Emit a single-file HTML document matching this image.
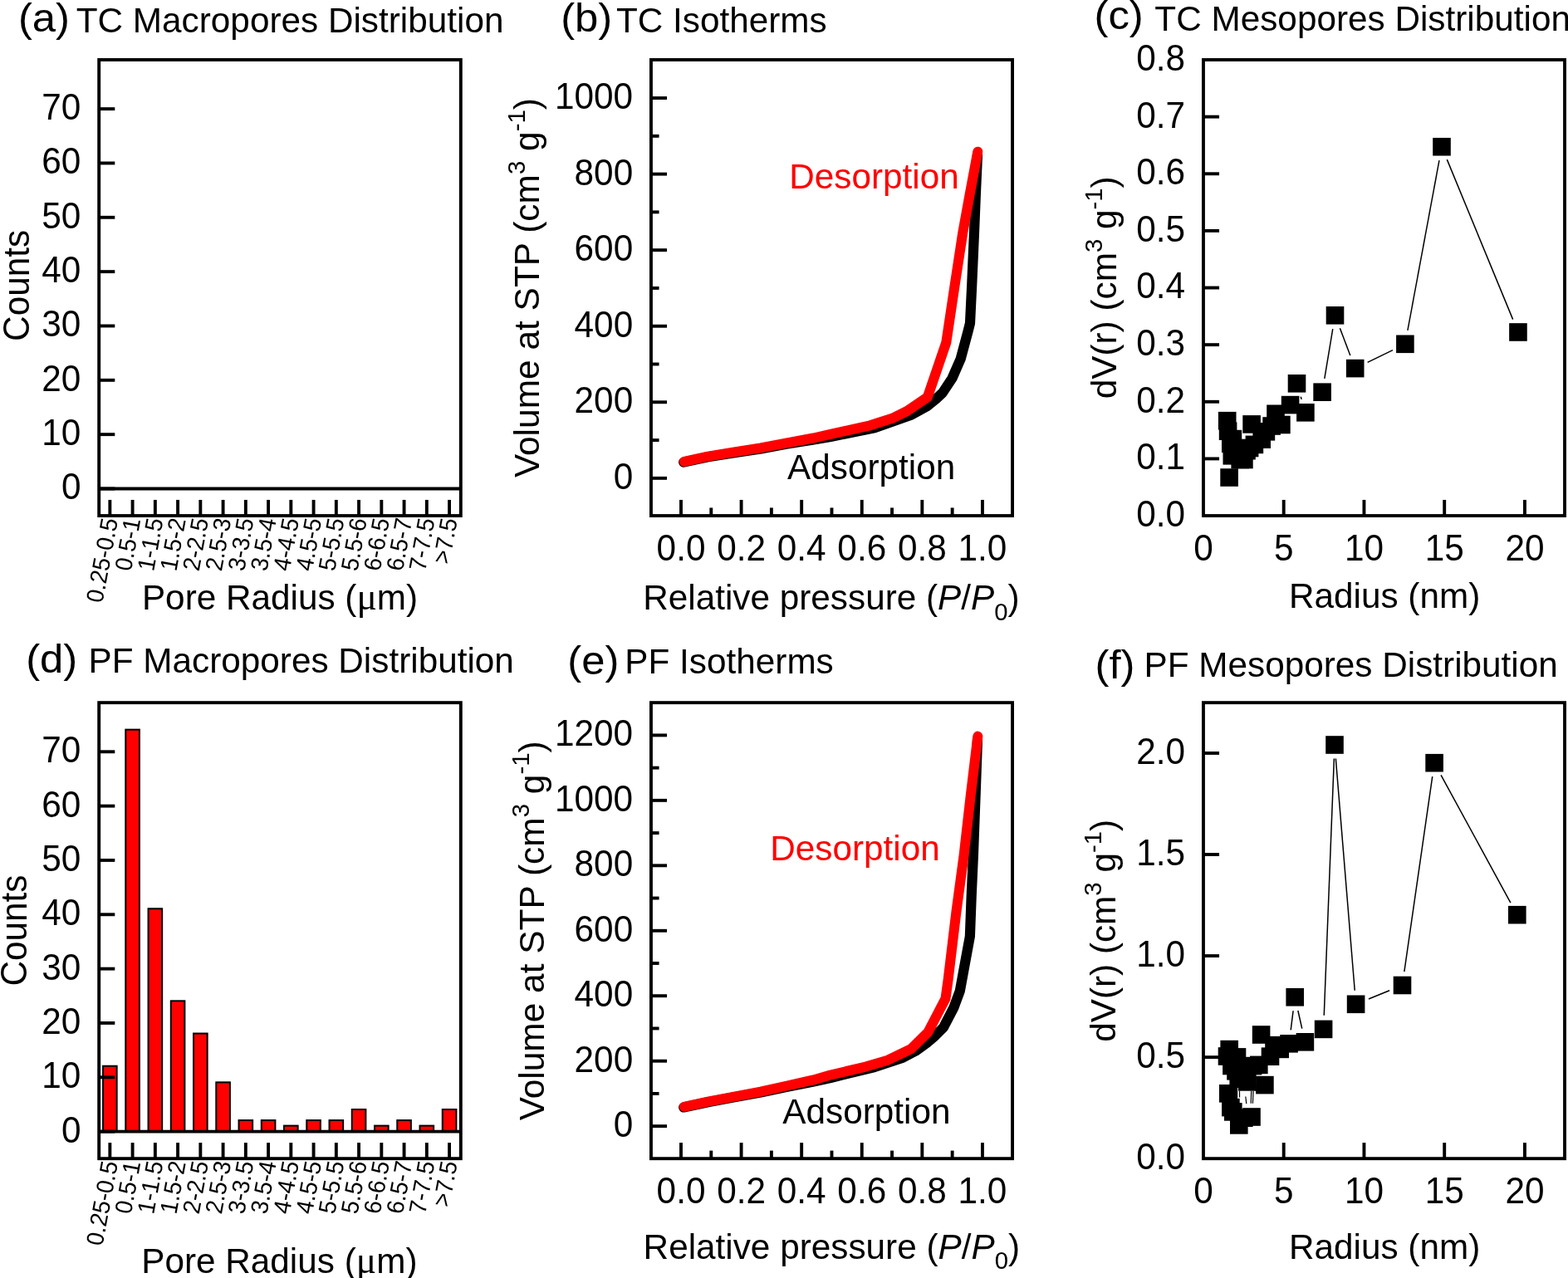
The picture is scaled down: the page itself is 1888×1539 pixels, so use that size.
<!DOCTYPE html>
<html lang="en">
<head>
<meta charset="utf-8">
<title>Macropore / mesopore distributions and isotherms of TC and PF</title>
<style>
html,body{margin:0;padding:0;background:#fff}
svg{display:block;font-family:"Liberation Sans","Noto Sans CJK SC",sans-serif;font-size:42.3px;fill:#000}
</style>
</head>
<body>
<svg width="1888" height="1539" viewBox="0 0 1888 1539">
<rect width="1888" height="1539" fill="#fff"/>
<rect x="119.2" y="72" width="435.6" height="549.05" fill="none" stroke="#000" stroke-width="3.9"/>
<line x1="119.2" y1="588.5" x2="554.8" y2="588.5" stroke="#000" stroke-width="3.9"/>
<line x1="119.2" y1="588.5" x2="138.3" y2="588.5" stroke="#000" stroke-width="3.9"/>
<line x1="119.2" y1="523.16" x2="138.3" y2="523.16" stroke="#000" stroke-width="3.9"/>
<line x1="119.2" y1="457.82" x2="138.3" y2="457.82" stroke="#000" stroke-width="3.9"/>
<line x1="119.2" y1="392.48" x2="138.3" y2="392.48" stroke="#000" stroke-width="3.9"/>
<line x1="119.2" y1="327.14" x2="138.3" y2="327.14" stroke="#000" stroke-width="3.9"/>
<line x1="119.2" y1="261.8" x2="138.3" y2="261.8" stroke="#000" stroke-width="3.9"/>
<line x1="119.2" y1="196.46" x2="138.3" y2="196.46" stroke="#000" stroke-width="3.9"/>
<line x1="119.2" y1="131.12" x2="138.3" y2="131.12" stroke="#000" stroke-width="3.9"/>
<text transform="translate(97.4 601.4) scale(1 1.04)" text-anchor="end">0</text>
<text transform="translate(97.4 536.06) scale(1 1.04)" text-anchor="end">10</text>
<text transform="translate(97.4 470.72) scale(1 1.04)" text-anchor="end">20</text>
<text transform="translate(97.4 405.38) scale(1 1.04)" text-anchor="end">30</text>
<text transform="translate(97.4 340.04) scale(1 1.04)" text-anchor="end">40</text>
<text transform="translate(97.4 274.7) scale(1 1.04)" text-anchor="end">50</text>
<text transform="translate(97.4 209.36) scale(1 1.04)" text-anchor="end">60</text>
<text transform="translate(97.4 144.02) scale(1 1.04)" text-anchor="end">70</text>
<line x1="132.35" y1="621.05" x2="132.35" y2="601.95" stroke="#000" stroke-width="3.9"/>
<line x1="159.6" y1="621.05" x2="159.6" y2="601.95" stroke="#000" stroke-width="3.9"/>
<line x1="186.85" y1="621.05" x2="186.85" y2="601.95" stroke="#000" stroke-width="3.9"/>
<line x1="214.09" y1="621.05" x2="214.09" y2="601.95" stroke="#000" stroke-width="3.9"/>
<line x1="241.34" y1="621.05" x2="241.34" y2="601.95" stroke="#000" stroke-width="3.9"/>
<line x1="268.59" y1="621.05" x2="268.59" y2="601.95" stroke="#000" stroke-width="3.9"/>
<line x1="295.84" y1="621.05" x2="295.84" y2="601.95" stroke="#000" stroke-width="3.9"/>
<line x1="323.09" y1="621.05" x2="323.09" y2="601.95" stroke="#000" stroke-width="3.9"/>
<line x1="350.33" y1="621.05" x2="350.33" y2="601.95" stroke="#000" stroke-width="3.9"/>
<line x1="377.58" y1="621.05" x2="377.58" y2="601.95" stroke="#000" stroke-width="3.9"/>
<line x1="404.83" y1="621.05" x2="404.83" y2="601.95" stroke="#000" stroke-width="3.9"/>
<line x1="432.08" y1="621.05" x2="432.08" y2="601.95" stroke="#000" stroke-width="3.9"/>
<line x1="459.33" y1="621.05" x2="459.33" y2="601.95" stroke="#000" stroke-width="3.9"/>
<line x1="486.57" y1="621.05" x2="486.57" y2="601.95" stroke="#000" stroke-width="3.9"/>
<line x1="513.82" y1="621.05" x2="513.82" y2="601.95" stroke="#000" stroke-width="3.9"/>
<line x1="541.07" y1="621.05" x2="541.07" y2="601.95" stroke="#000" stroke-width="3.9"/>
<text transform="translate(142.05 626.05) rotate(-79.5) scale(1 1.04)" font-size="28" text-anchor="end">0.25-0.5</text>
<text transform="translate(169.3 626.05) rotate(-79.5) scale(1 1.04)" font-size="28" text-anchor="end">0.5-1</text>
<text transform="translate(196.55 626.05) rotate(-79.5) scale(1 1.04)" font-size="28" text-anchor="end">1-1.5</text>
<text transform="translate(223.79 626.05) rotate(-79.5) scale(1 1.04)" font-size="28" text-anchor="end">1.5-2</text>
<text transform="translate(251.04 626.05) rotate(-79.5) scale(1 1.04)" font-size="28" text-anchor="end">2-2.5</text>
<text transform="translate(278.29 626.05) rotate(-79.5) scale(1 1.04)" font-size="28" text-anchor="end">2.5-3</text>
<text transform="translate(305.54 626.05) rotate(-79.5) scale(1 1.04)" font-size="28" text-anchor="end">3-3.5</text>
<text transform="translate(332.79 626.05) rotate(-79.5) scale(1 1.04)" font-size="28" text-anchor="end">3.5-4</text>
<text transform="translate(360.03 626.05) rotate(-79.5) scale(1 1.04)" font-size="28" text-anchor="end">4-4.5</text>
<text transform="translate(387.28 626.05) rotate(-79.5) scale(1 1.04)" font-size="28" text-anchor="end">4.5-5</text>
<text transform="translate(414.53 626.05) rotate(-79.5) scale(1 1.04)" font-size="28" text-anchor="end">5-5.5</text>
<text transform="translate(441.78 626.05) rotate(-79.5) scale(1 1.04)" font-size="28" text-anchor="end">5.5-6</text>
<text transform="translate(469.03 626.05) rotate(-79.5) scale(1 1.04)" font-size="28" text-anchor="end">6-6.5</text>
<text transform="translate(496.27 626.05) rotate(-79.5) scale(1 1.04)" font-size="28" text-anchor="end">6.5-7</text>
<text transform="translate(523.52 626.05) rotate(-79.5) scale(1 1.04)" font-size="28" text-anchor="end">7-7.5</text>
<text transform="translate(550.77 626.05) rotate(-79.5) scale(1 1.04)" font-size="28" text-anchor="end">&gt;7.5</text>
<text transform="translate(35.1 410.9) rotate(-90) scale(1 1.04)">Counts</text>
<text transform="translate(170.9 733.9) scale(1 1.015)">Pore Radius (<tspan font-family="'Liberation Serif',serif" font-size="45.5">μ</tspan>m)</text>
<text transform="translate(21.95 37.95) scale(1.048 1)" font-size="48.5">(a)</text>
<text transform="translate(91.75 38.7) scale(1 1.015)">TC Macropores Distribution</text>
<rect x="124.05" y="1283.74" width="16.6" height="78.91" fill="#f00" stroke="#000" stroke-width="2"/>
<rect x="151.3" y="878.63" width="16.6" height="484.02" fill="#f00" stroke="#000" stroke-width="2"/>
<rect x="178.55" y="1094.26" width="16.6" height="268.39" fill="#f00" stroke="#000" stroke-width="2"/>
<rect x="205.79" y="1205.33" width="16.6" height="157.32" fill="#f00" stroke="#000" stroke-width="2"/>
<rect x="233.04" y="1244.54" width="16.6" height="118.11" fill="#f00" stroke="#000" stroke-width="2"/>
<rect x="260.29" y="1303.34" width="16.6" height="59.31" fill="#f00" stroke="#000" stroke-width="2"/>
<rect x="287.54" y="1349.08" width="16.6" height="13.57" fill="#f00" stroke="#000" stroke-width="2"/>
<rect x="314.79" y="1349.08" width="16.6" height="13.57" fill="#f00" stroke="#000" stroke-width="2"/>
<rect x="342.03" y="1355.62" width="16.6" height="7.03" fill="#f00" stroke="#000" stroke-width="2"/>
<rect x="369.28" y="1349.08" width="16.6" height="13.57" fill="#f00" stroke="#000" stroke-width="2"/>
<rect x="396.53" y="1349.08" width="16.6" height="13.57" fill="#f00" stroke="#000" stroke-width="2"/>
<rect x="423.78" y="1336.01" width="16.6" height="26.64" fill="#f00" stroke="#000" stroke-width="2"/>
<rect x="451.03" y="1355.62" width="16.6" height="7.03" fill="#f00" stroke="#000" stroke-width="2"/>
<rect x="478.27" y="1349.08" width="16.6" height="13.57" fill="#f00" stroke="#000" stroke-width="2"/>
<rect x="505.52" y="1355.62" width="16.6" height="7.03" fill="#f00" stroke="#000" stroke-width="2"/>
<rect x="532.77" y="1336.01" width="16.6" height="26.64" fill="#f00" stroke="#000" stroke-width="2"/>
<rect x="119.2" y="846.15" width="435.6" height="549.05" fill="none" stroke="#000" stroke-width="3.9"/>
<line x1="119.2" y1="1362.65" x2="554.8" y2="1362.65" stroke="#000" stroke-width="3.9"/>
<line x1="119.2" y1="1362.65" x2="138.3" y2="1362.65" stroke="#000" stroke-width="3.9"/>
<line x1="119.2" y1="1297.31" x2="138.3" y2="1297.31" stroke="#000" stroke-width="3.9"/>
<line x1="119.2" y1="1231.97" x2="138.3" y2="1231.97" stroke="#000" stroke-width="3.9"/>
<line x1="119.2" y1="1166.63" x2="138.3" y2="1166.63" stroke="#000" stroke-width="3.9"/>
<line x1="119.2" y1="1101.29" x2="138.3" y2="1101.29" stroke="#000" stroke-width="3.9"/>
<line x1="119.2" y1="1035.95" x2="138.3" y2="1035.95" stroke="#000" stroke-width="3.9"/>
<line x1="119.2" y1="970.61" x2="138.3" y2="970.61" stroke="#000" stroke-width="3.9"/>
<line x1="119.2" y1="905.27" x2="138.3" y2="905.27" stroke="#000" stroke-width="3.9"/>
<text transform="translate(97.4 1375.55) scale(1 1.04)" text-anchor="end">0</text>
<text transform="translate(97.4 1310.21) scale(1 1.04)" text-anchor="end">10</text>
<text transform="translate(97.4 1244.87) scale(1 1.04)" text-anchor="end">20</text>
<text transform="translate(97.4 1179.53) scale(1 1.04)" text-anchor="end">30</text>
<text transform="translate(97.4 1114.19) scale(1 1.04)" text-anchor="end">40</text>
<text transform="translate(97.4 1048.85) scale(1 1.04)" text-anchor="end">50</text>
<text transform="translate(97.4 983.51) scale(1 1.04)" text-anchor="end">60</text>
<text transform="translate(97.4 918.17) scale(1 1.04)" text-anchor="end">70</text>
<line x1="132.35" y1="1395.2" x2="132.35" y2="1376.1" stroke="#000" stroke-width="3.9"/>
<line x1="159.6" y1="1395.2" x2="159.6" y2="1376.1" stroke="#000" stroke-width="3.9"/>
<line x1="186.85" y1="1395.2" x2="186.85" y2="1376.1" stroke="#000" stroke-width="3.9"/>
<line x1="214.09" y1="1395.2" x2="214.09" y2="1376.1" stroke="#000" stroke-width="3.9"/>
<line x1="241.34" y1="1395.2" x2="241.34" y2="1376.1" stroke="#000" stroke-width="3.9"/>
<line x1="268.59" y1="1395.2" x2="268.59" y2="1376.1" stroke="#000" stroke-width="3.9"/>
<line x1="295.84" y1="1395.2" x2="295.84" y2="1376.1" stroke="#000" stroke-width="3.9"/>
<line x1="323.09" y1="1395.2" x2="323.09" y2="1376.1" stroke="#000" stroke-width="3.9"/>
<line x1="350.33" y1="1395.2" x2="350.33" y2="1376.1" stroke="#000" stroke-width="3.9"/>
<line x1="377.58" y1="1395.2" x2="377.58" y2="1376.1" stroke="#000" stroke-width="3.9"/>
<line x1="404.83" y1="1395.2" x2="404.83" y2="1376.1" stroke="#000" stroke-width="3.9"/>
<line x1="432.08" y1="1395.2" x2="432.08" y2="1376.1" stroke="#000" stroke-width="3.9"/>
<line x1="459.33" y1="1395.2" x2="459.33" y2="1376.1" stroke="#000" stroke-width="3.9"/>
<line x1="486.57" y1="1395.2" x2="486.57" y2="1376.1" stroke="#000" stroke-width="3.9"/>
<line x1="513.82" y1="1395.2" x2="513.82" y2="1376.1" stroke="#000" stroke-width="3.9"/>
<line x1="541.07" y1="1395.2" x2="541.07" y2="1376.1" stroke="#000" stroke-width="3.9"/>
<text transform="translate(142.05 1400.2) rotate(-79.5) scale(1 1.04)" font-size="28" text-anchor="end">0.25-0.5</text>
<text transform="translate(169.3 1400.2) rotate(-79.5) scale(1 1.04)" font-size="28" text-anchor="end">0.5-1</text>
<text transform="translate(196.55 1400.2) rotate(-79.5) scale(1 1.04)" font-size="28" text-anchor="end">1-1.5</text>
<text transform="translate(223.79 1400.2) rotate(-79.5) scale(1 1.04)" font-size="28" text-anchor="end">1.5-2</text>
<text transform="translate(251.04 1400.2) rotate(-79.5) scale(1 1.04)" font-size="28" text-anchor="end">2-2.5</text>
<text transform="translate(278.29 1400.2) rotate(-79.5) scale(1 1.04)" font-size="28" text-anchor="end">2.5-3</text>
<text transform="translate(305.54 1400.2) rotate(-79.5) scale(1 1.04)" font-size="28" text-anchor="end">3-3.5</text>
<text transform="translate(332.79 1400.2) rotate(-79.5) scale(1 1.04)" font-size="28" text-anchor="end">3.5-4</text>
<text transform="translate(360.03 1400.2) rotate(-79.5) scale(1 1.04)" font-size="28" text-anchor="end">4-4.5</text>
<text transform="translate(387.28 1400.2) rotate(-79.5) scale(1 1.04)" font-size="28" text-anchor="end">4.5-5</text>
<text transform="translate(414.53 1400.2) rotate(-79.5) scale(1 1.04)" font-size="28" text-anchor="end">5-5.5</text>
<text transform="translate(441.78 1400.2) rotate(-79.5) scale(1 1.04)" font-size="28" text-anchor="end">5.5-6</text>
<text transform="translate(469.03 1400.2) rotate(-79.5) scale(1 1.04)" font-size="28" text-anchor="end">6-6.5</text>
<text transform="translate(496.27 1400.2) rotate(-79.5) scale(1 1.04)" font-size="28" text-anchor="end">6.5-7</text>
<text transform="translate(523.52 1400.2) rotate(-79.5) scale(1 1.04)" font-size="28" text-anchor="end">7-7.5</text>
<text transform="translate(550.77 1400.2) rotate(-79.5) scale(1 1.04)" font-size="28" text-anchor="end">&gt;7.5</text>
<text transform="translate(32 1187.6) rotate(-90) scale(1 1.04)">Counts</text>
<text transform="translate(170.2 1532.7) scale(1 1.015)">Pore Radius (<tspan font-family="'Liberation Serif',serif" font-size="45.5">μ</tspan>m)</text>
<text transform="translate(31.15 809.85) scale(1.048 1)" font-size="48.5">(d)</text>
<text transform="translate(106.5 810.25) scale(1 1.015)">PF Macropores Distribution</text>
<polyline points="823.2,556.6 852.4,550.2 884.2,545.2 915.9,540.4 947.7,534.6 979.5,529.5 1000,526 1053,515.3 1097.6,499.5 1115.8,489.5 1127.2,480.2 1134.9,473 1146.5,455.5 1156.7,432.1 1165.6,398.8 1168,389.2 1170.2,343.7 1173,280 1174.9,232.8 1177,186" fill="none" stroke="#000" stroke-width="12.2" stroke-linejoin="round" stroke-linecap="round"/>
<polyline points="823.8,555.9 852.4,549.6 884.2,544.4 915.9,539.4 947.7,533.3 979.5,527.5 1000,522.8 1047.7,512.3 1074.2,503.8 1092.2,495 1116.8,478.2 1139.3,412.5 1149.6,343.7 1159.3,280 1167.9,232.8 1177.3,182.7" fill="none" stroke="#f00" stroke-width="12" stroke-linejoin="round" stroke-linecap="round"/>
<rect x="783.95" y="72" width="435.1" height="549.05" fill="none" stroke="#000" stroke-width="3.9"/>
<line x1="783.95" y1="575.85" x2="803.05" y2="575.85" stroke="#000" stroke-width="3.9"/>
<line x1="783.95" y1="484.29" x2="803.05" y2="484.29" stroke="#000" stroke-width="3.9"/>
<line x1="783.95" y1="392.73" x2="803.05" y2="392.73" stroke="#000" stroke-width="3.9"/>
<line x1="783.95" y1="301.17" x2="803.05" y2="301.17" stroke="#000" stroke-width="3.9"/>
<line x1="783.95" y1="209.61" x2="803.05" y2="209.61" stroke="#000" stroke-width="3.9"/>
<line x1="783.95" y1="118.05" x2="803.05" y2="118.05" stroke="#000" stroke-width="3.9"/>
<line x1="783.95" y1="530.07" x2="793.55" y2="530.07" stroke="#000" stroke-width="3.9"/>
<line x1="783.95" y1="438.51" x2="793.55" y2="438.51" stroke="#000" stroke-width="3.9"/>
<line x1="783.95" y1="346.95" x2="793.55" y2="346.95" stroke="#000" stroke-width="3.9"/>
<line x1="783.95" y1="255.39" x2="793.55" y2="255.39" stroke="#000" stroke-width="3.9"/>
<line x1="783.95" y1="163.83" x2="793.55" y2="163.83" stroke="#000" stroke-width="3.9"/>
<text transform="translate(762.15 588.75) scale(1 1.04)" text-anchor="end">0</text>
<text transform="translate(762.15 497.19) scale(1 1.04)" text-anchor="end">200</text>
<text transform="translate(762.15 405.63) scale(1 1.04)" text-anchor="end">400</text>
<text transform="translate(762.15 314.07) scale(1 1.04)" text-anchor="end">600</text>
<text transform="translate(762.15 222.51) scale(1 1.04)" text-anchor="end">800</text>
<text transform="translate(762.15 130.95) scale(1 1.04)" text-anchor="end">1000</text>
<line x1="820" y1="621.05" x2="820" y2="601.95" stroke="#000" stroke-width="3.9"/>
<line x1="892.59" y1="621.05" x2="892.59" y2="601.95" stroke="#000" stroke-width="3.9"/>
<line x1="965.17" y1="621.05" x2="965.17" y2="601.95" stroke="#000" stroke-width="3.9"/>
<line x1="1037.76" y1="621.05" x2="1037.76" y2="601.95" stroke="#000" stroke-width="3.9"/>
<line x1="1110.34" y1="621.05" x2="1110.34" y2="601.95" stroke="#000" stroke-width="3.9"/>
<line x1="1182.93" y1="621.05" x2="1182.93" y2="601.95" stroke="#000" stroke-width="3.9"/>
<line x1="856.29" y1="621.05" x2="856.29" y2="611.45" stroke="#000" stroke-width="3.9"/>
<line x1="928.88" y1="621.05" x2="928.88" y2="611.45" stroke="#000" stroke-width="3.9"/>
<line x1="1001.47" y1="621.05" x2="1001.47" y2="611.45" stroke="#000" stroke-width="3.9"/>
<line x1="1074.05" y1="621.05" x2="1074.05" y2="611.45" stroke="#000" stroke-width="3.9"/>
<line x1="1146.64" y1="621.05" x2="1146.64" y2="611.45" stroke="#000" stroke-width="3.9"/>
<text transform="translate(820 674.75) scale(1 1.04)" text-anchor="middle">0.0</text>
<text transform="translate(892.59 674.75) scale(1 1.04)" text-anchor="middle">0.2</text>
<text transform="translate(965.17 674.75) scale(1 1.04)" text-anchor="middle">0.4</text>
<text transform="translate(1037.76 674.75) scale(1 1.04)" text-anchor="middle">0.6</text>
<text transform="translate(1110.34 674.75) scale(1 1.04)" text-anchor="middle">0.8</text>
<text transform="translate(1182.93 674.75) scale(1 1.04)" text-anchor="middle">1.0</text>
<text transform="translate(774.2 734.4) scale(1 1.015)">Relative pressure (<tspan font-style="italic">P</tspan>/<tspan font-style="italic">P</tspan><tspan font-size="29.3" dy="12">0</tspan><tspan dy="-12">)</tspan></text>
<text transform="translate(649.1 575) rotate(-90) scale(1.004 1.015)">Volume at STP (cm<tspan font-size="29.3" dy="-17">3</tspan><tspan dy="17"> g</tspan><tspan font-size="29.3" dy="-17">-1</tspan><tspan dy="17">)</tspan></text>
<text transform="translate(1154.8 226.9) scale(1 1.015)" text-anchor="end" fill="#f00">Desorption</text>
<text transform="translate(948.1 577.05) scale(1 1.015)">Adsorption</text>
<text transform="translate(675.15 38) scale(1.048 1)" font-size="48.5">(b)</text>
<text transform="translate(741.95 39.4) scale(1 1.015)">TC Isotherms</text>
<polyline points="823.2,1333.5 852.4,1327.2 884.2,1321.3 915.9,1315.6 947.7,1308.8 979.5,1302.4 1000,1298 1053,1285 1087.1,1273.7 1102.3,1265.7 1115.7,1256 1126,1247.3 1136,1237.3 1148.4,1213.4 1155.8,1193.3 1160.3,1168.9 1167.9,1127.5 1169.7,1078.7 1171.9,1030 1174.5,960 1177,890" fill="none" stroke="#000" stroke-width="12.2" stroke-linejoin="round" stroke-linecap="round"/>
<polyline points="823.8,1332.8 852.4,1326.6 884.2,1320.6 915.9,1314.7 947.7,1307.5 979.5,1300.4 1000,1294.5 1042.4,1284.6 1068.9,1276.7 1096.9,1263.2 1117.4,1243.1 1138.5,1202.6 1141.6,1180 1151.4,1098.2 1160.6,1030 1168.7,958.4 1177.35,886.6" fill="none" stroke="#f00" stroke-width="12" stroke-linejoin="round" stroke-linecap="round"/>
<rect x="783.95" y="846.15" width="435.1" height="549.05" fill="none" stroke="#000" stroke-width="3.9"/>
<line x1="783.95" y1="1356.15" x2="803.05" y2="1356.15" stroke="#000" stroke-width="3.9"/>
<line x1="783.95" y1="1277.69" x2="803.05" y2="1277.69" stroke="#000" stroke-width="3.9"/>
<line x1="783.95" y1="1199.23" x2="803.05" y2="1199.23" stroke="#000" stroke-width="3.9"/>
<line x1="783.95" y1="1120.78" x2="803.05" y2="1120.78" stroke="#000" stroke-width="3.9"/>
<line x1="783.95" y1="1042.32" x2="803.05" y2="1042.32" stroke="#000" stroke-width="3.9"/>
<line x1="783.95" y1="963.86" x2="803.05" y2="963.86" stroke="#000" stroke-width="3.9"/>
<line x1="783.95" y1="885.4" x2="803.05" y2="885.4" stroke="#000" stroke-width="3.9"/>
<line x1="783.95" y1="1316.92" x2="793.55" y2="1316.92" stroke="#000" stroke-width="3.9"/>
<line x1="783.95" y1="1238.46" x2="793.55" y2="1238.46" stroke="#000" stroke-width="3.9"/>
<line x1="783.95" y1="1160" x2="793.55" y2="1160" stroke="#000" stroke-width="3.9"/>
<line x1="783.95" y1="1081.55" x2="793.55" y2="1081.55" stroke="#000" stroke-width="3.9"/>
<line x1="783.95" y1="1003.09" x2="793.55" y2="1003.09" stroke="#000" stroke-width="3.9"/>
<line x1="783.95" y1="924.63" x2="793.55" y2="924.63" stroke="#000" stroke-width="3.9"/>
<text transform="translate(762.15 1369.05) scale(1 1.04)" text-anchor="end">0</text>
<text transform="translate(762.15 1290.59) scale(1 1.04)" text-anchor="end">200</text>
<text transform="translate(762.15 1212.13) scale(1 1.04)" text-anchor="end">400</text>
<text transform="translate(762.15 1133.68) scale(1 1.04)" text-anchor="end">600</text>
<text transform="translate(762.15 1055.22) scale(1 1.04)" text-anchor="end">800</text>
<text transform="translate(762.15 976.76) scale(1 1.04)" text-anchor="end">1000</text>
<text transform="translate(762.15 898.3) scale(1 1.04)" text-anchor="end">1200</text>
<line x1="820" y1="1395.2" x2="820" y2="1376.1" stroke="#000" stroke-width="3.9"/>
<line x1="892.59" y1="1395.2" x2="892.59" y2="1376.1" stroke="#000" stroke-width="3.9"/>
<line x1="965.17" y1="1395.2" x2="965.17" y2="1376.1" stroke="#000" stroke-width="3.9"/>
<line x1="1037.76" y1="1395.2" x2="1037.76" y2="1376.1" stroke="#000" stroke-width="3.9"/>
<line x1="1110.34" y1="1395.2" x2="1110.34" y2="1376.1" stroke="#000" stroke-width="3.9"/>
<line x1="1182.93" y1="1395.2" x2="1182.93" y2="1376.1" stroke="#000" stroke-width="3.9"/>
<line x1="856.29" y1="1395.2" x2="856.29" y2="1385.6" stroke="#000" stroke-width="3.9"/>
<line x1="928.88" y1="1395.2" x2="928.88" y2="1385.6" stroke="#000" stroke-width="3.9"/>
<line x1="1001.47" y1="1395.2" x2="1001.47" y2="1385.6" stroke="#000" stroke-width="3.9"/>
<line x1="1074.05" y1="1395.2" x2="1074.05" y2="1385.6" stroke="#000" stroke-width="3.9"/>
<line x1="1146.64" y1="1395.2" x2="1146.64" y2="1385.6" stroke="#000" stroke-width="3.9"/>
<text transform="translate(820 1448.9) scale(1 1.04)" text-anchor="middle">0.0</text>
<text transform="translate(892.59 1448.9) scale(1 1.04)" text-anchor="middle">0.2</text>
<text transform="translate(965.17 1448.9) scale(1 1.04)" text-anchor="middle">0.4</text>
<text transform="translate(1037.76 1448.9) scale(1 1.04)" text-anchor="middle">0.6</text>
<text transform="translate(1110.34 1448.9) scale(1 1.04)" text-anchor="middle">0.8</text>
<text transform="translate(1182.93 1448.9) scale(1 1.04)" text-anchor="middle">1.0</text>
<text transform="translate(774.6 1515.5) scale(1 1.015)">Relative pressure (<tspan font-style="italic">P</tspan>/<tspan font-style="italic">P</tspan><tspan font-size="29.3" dy="12">0</tspan><tspan dy="-12">)</tspan></text>
<text transform="translate(654.6 1349.3) rotate(-90) scale(1.004 1.015)">Volume at STP (cm<tspan font-size="29.3" dy="-17">3</tspan><tspan dy="17"> g</tspan><tspan font-size="29.3" dy="-17">-1</tspan><tspan dy="17">)</tspan></text>
<text transform="translate(1131.7 1035.75) scale(1 1.015)" text-anchor="end" fill="#f00">Desorption</text>
<text transform="translate(942.3 1353.4) scale(1 1.015)">Adsorption</text>
<text transform="translate(683.25 811.8) scale(1.048 1)" font-size="48.5">(e)</text>
<text transform="translate(752.3 810.6) scale(1 1.015)">PF Isotherms</text>
<line x1="1566.23" y1="477.71" x2="1567.17" y2="480.89" stroke="#000" stroke-width="1.5"/>
<line x1="1594.83" y1="455.83" x2="1604.77" y2="396.17" stroke="#000" stroke-width="1.5"/>
<line x1="1613.39" y1="395.32" x2="1625.81" y2="428.08" stroke="#000" stroke-width="1.5"/>
<line x1="1646.63" y1="436.34" x2="1676.97" y2="421.56" stroke="#000" stroke-width="1.5"/>
<line x1="1694.93" y1="397.98" x2="1732.97" y2="193.07" stroke="#000" stroke-width="1.5"/>
<line x1="1742.32" y1="192.1" x2="1821.64" y2="384.63" stroke="#000" stroke-width="1.5"/>
<rect x="1473.6" y="517.8" width="21.6" height="21.6"/>
<rect x="1466.9" y="495.9" width="21.6" height="21.6"/>
<rect x="1467.8" y="508.4" width="21.6" height="21.6"/>
<rect x="1469.3" y="564.2" width="21.6" height="21.6"/>
<rect x="1471" y="523.5" width="21.6" height="21.6"/>
<rect x="1472.5" y="538" width="21.6" height="21.6"/>
<rect x="1482.4" y="542.7" width="21.6" height="21.6"/>
<rect x="1487.1" y="542.7" width="21.6" height="21.6"/>
<rect x="1490.2" y="531.9" width="21.6" height="21.6"/>
<rect x="1493.8" y="528.7" width="21.6" height="21.6"/>
<rect x="1496.3" y="500.1" width="21.6" height="21.6"/>
<rect x="1499.6" y="524.6" width="21.6" height="21.6"/>
<rect x="1508.4" y="518.3" width="21.6" height="21.6"/>
<rect x="1513.6" y="509" width="21.6" height="21.6"/>
<rect x="1520.3" y="502.2" width="21.6" height="21.6"/>
<rect x="1525.2" y="487.5" width="21.6" height="21.6"/>
<rect x="1532.1" y="500.7" width="21.6" height="21.6"/>
<rect x="1542.8" y="476.8" width="21.6" height="21.6"/>
<rect x="1550.7" y="451" width="21.6" height="21.6"/>
<rect x="1561.1" y="486" width="21.6" height="21.6"/>
<rect x="1581.3" y="461.4" width="21.6" height="21.6"/>
<rect x="1596.7" y="369" width="21.6" height="21.6"/>
<rect x="1620.9" y="432.8" width="21.6" height="21.6"/>
<rect x="1681.1" y="403.5" width="21.6" height="21.6"/>
<rect x="1725.2" y="165.95" width="21.6" height="21.6"/>
<rect x="1817.16" y="389.18" width="21.6" height="21.6"/>
<rect x="1448.95" y="72" width="435.1" height="549.05" fill="none" stroke="#000" stroke-width="3.9"/>
<line x1="1448.95" y1="552.42" x2="1468.05" y2="552.42" stroke="#000" stroke-width="3.9"/>
<line x1="1448.95" y1="483.79" x2="1468.05" y2="483.79" stroke="#000" stroke-width="3.9"/>
<line x1="1448.95" y1="415.16" x2="1468.05" y2="415.16" stroke="#000" stroke-width="3.9"/>
<line x1="1448.95" y1="346.53" x2="1468.05" y2="346.53" stroke="#000" stroke-width="3.9"/>
<line x1="1448.95" y1="277.9" x2="1468.05" y2="277.9" stroke="#000" stroke-width="3.9"/>
<line x1="1448.95" y1="209.27" x2="1468.05" y2="209.27" stroke="#000" stroke-width="3.9"/>
<line x1="1448.95" y1="140.64" x2="1468.05" y2="140.64" stroke="#000" stroke-width="3.9"/>
<text transform="translate(1427.15 633.95) scale(1 1.04)" text-anchor="end">0.0</text>
<text transform="translate(1427.15 565.32) scale(1 1.04)" text-anchor="end">0.1</text>
<text transform="translate(1427.15 496.69) scale(1 1.04)" text-anchor="end">0.2</text>
<text transform="translate(1427.15 428.06) scale(1 1.04)" text-anchor="end">0.3</text>
<text transform="translate(1427.15 359.43) scale(1 1.04)" text-anchor="end">0.4</text>
<text transform="translate(1427.15 290.8) scale(1 1.04)" text-anchor="end">0.5</text>
<text transform="translate(1427.15 222.17) scale(1 1.04)" text-anchor="end">0.6</text>
<text transform="translate(1427.15 153.54) scale(1 1.04)" text-anchor="end">0.7</text>
<text transform="translate(1427.15 84.91) scale(1 1.04)" text-anchor="end">0.8</text>
<line x1="1545.7" y1="621.05" x2="1545.7" y2="601.95" stroke="#000" stroke-width="3.9"/>
<line x1="1642.45" y1="621.05" x2="1642.45" y2="601.95" stroke="#000" stroke-width="3.9"/>
<line x1="1739.2" y1="621.05" x2="1739.2" y2="601.95" stroke="#000" stroke-width="3.9"/>
<line x1="1835.95" y1="621.05" x2="1835.95" y2="601.95" stroke="#000" stroke-width="3.9"/>
<text transform="translate(1448.95 674.75) scale(1 1.04)" text-anchor="middle">0</text>
<text transform="translate(1545.7 674.75) scale(1 1.04)" text-anchor="middle">5</text>
<text transform="translate(1642.45 674.75) scale(1 1.04)" text-anchor="middle">10</text>
<text transform="translate(1739.2 674.75) scale(1 1.04)" text-anchor="middle">15</text>
<text transform="translate(1835.95 674.75) scale(1 1.04)" text-anchor="middle">20</text>
<text transform="translate(1667.1 731.7) scale(1 1.015)" text-anchor="middle">Radius (nm)</text>
<text transform="translate(1344.2 480.3) rotate(-90) scale(1 1.015)">dV(r) (cm<tspan font-size="29.3" dy="-17">3</tspan><tspan dy="17"> g</tspan><tspan font-size="29.3" dy="-17">-1</tspan><tspan dy="17">)</tspan></text>
<text transform="translate(1317.55 35.45) scale(1.048 1)" font-size="48.5">(c)</text>
<text transform="translate(1390.35 36.9) scale(1 1.015)">TC Mesopores Distribution</text>
<line x1="1554.19" y1="1240.33" x2="1557.11" y2="1217.27" stroke="#000" stroke-width="1.5"/>
<line x1="1562.86" y1="1216.99" x2="1567.74" y2="1238.61" stroke="#000" stroke-width="1.5"/>
<line x1="1594.25" y1="1222.81" x2="1606.35" y2="913.59" stroke="#000" stroke-width="1.5"/>
<line x1="1608.36" y1="913.54" x2="1631.24" y2="1192.76" stroke="#000" stroke-width="1.5"/>
<line x1="1647.97" y1="1203.03" x2="1673.13" y2="1192.77" stroke="#000" stroke-width="1.5"/>
<line x1="1690.87" y1="1170.07" x2="1724.73" y2="935.13" stroke="#000" stroke-width="1.5"/>
<line x1="1735.04" y1="933.28" x2="1818.86" y2="1087.12" stroke="#000" stroke-width="1.5"/>
<line x1="1489.6" y1="1309.8" x2="1489.6" y2="1322.5" stroke="#000" stroke-width="1.2"/>
<line x1="1492.5" y1="1313.7" x2="1492.5" y2="1321.5" stroke="#000" stroke-width="1.2"/>
<line x1="1499.8" y1="1320.5" x2="1500.8" y2="1329.3" stroke="#000" stroke-width="1.2"/>
<line x1="1506.7" y1="1313.7" x2="1506.2" y2="1328.8" stroke="#000" stroke-width="1.2"/>
<line x1="1509.1" y1="1313.7" x2="1508.4" y2="1328.8" stroke="#000" stroke-width="1.2"/>
<line x1="1512" y1="1305" x2="1512" y2="1313.7" stroke="#000" stroke-width="1.2"/>
<rect x="1481" y="1344.1" width="21.6" height="21.6"/>
<rect x="1496.2" y="1334.2" width="21.6" height="21.6"/>
<rect x="1487" y="1335.4" width="21.6" height="21.6"/>
<rect x="1474" y="1328.1" width="21.6" height="21.6"/>
<rect x="1471.1" y="1322.8" width="21.6" height="21.6"/>
<rect x="1468" y="1306" width="21.6" height="21.6"/>
<rect x="1469.4" y="1252.8" width="21.6" height="21.6"/>
<rect x="1466.7" y="1261.2" width="21.6" height="21.6"/>
<rect x="1472.1" y="1272.7" width="21.6" height="21.6"/>
<rect x="1477.2" y="1279" width="21.6" height="21.6"/>
<rect x="1480.4" y="1288.4" width="21.6" height="21.6"/>
<rect x="1491" y="1292.1" width="21.6" height="21.6"/>
<rect x="1478.7" y="1262.1" width="21.6" height="21.6"/>
<rect x="1497.7" y="1272.8" width="21.6" height="21.6"/>
<rect x="1505" y="1271.6" width="21.6" height="21.6"/>
<rect x="1512.1" y="1295.8" width="21.6" height="21.6"/>
<rect x="1507.8" y="1235.2" width="21.6" height="21.6"/>
<rect x="1518.7" y="1261.4" width="21.6" height="21.6"/>
<rect x="1530.4" y="1252.6" width="21.6" height="21.6"/>
<rect x="1523.2" y="1247.9" width="21.6" height="21.6"/>
<rect x="1541.3" y="1246" width="21.6" height="21.6"/>
<rect x="1560.6" y="1244" width="21.6" height="21.6"/>
<rect x="1582.8" y="1228.6" width="21.6" height="21.6"/>
<rect x="1548.4" y="1190" width="21.6" height="21.6"/>
<rect x="1596.2" y="886.2" width="21.6" height="21.6"/>
<rect x="1621.8" y="1198.5" width="21.6" height="21.6"/>
<rect x="1677.7" y="1175.7" width="21.6" height="21.6"/>
<rect x="1716.3" y="907.9" width="21.6" height="21.6"/>
<rect x="1816" y="1090.9" width="21.6" height="21.6"/>
<rect x="1448.95" y="846.15" width="435.1" height="549.05" fill="none" stroke="#000" stroke-width="3.9"/>
<line x1="1448.95" y1="1273.14" x2="1468.05" y2="1273.14" stroke="#000" stroke-width="3.9"/>
<line x1="1448.95" y1="1151.08" x2="1468.05" y2="1151.08" stroke="#000" stroke-width="3.9"/>
<line x1="1448.95" y1="1029.02" x2="1468.05" y2="1029.02" stroke="#000" stroke-width="3.9"/>
<line x1="1448.95" y1="906.96" x2="1468.05" y2="906.96" stroke="#000" stroke-width="3.9"/>
<text transform="translate(1427.15 1408.1) scale(1 1.04)" text-anchor="end">0.0</text>
<text transform="translate(1427.15 1286.04) scale(1 1.04)" text-anchor="end">0.5</text>
<text transform="translate(1427.15 1163.98) scale(1 1.04)" text-anchor="end">1.0</text>
<text transform="translate(1427.15 1041.92) scale(1 1.04)" text-anchor="end">1.5</text>
<text transform="translate(1427.15 919.86) scale(1 1.04)" text-anchor="end">2.0</text>
<line x1="1545.7" y1="1395.2" x2="1545.7" y2="1376.1" stroke="#000" stroke-width="3.9"/>
<line x1="1642.45" y1="1395.2" x2="1642.45" y2="1376.1" stroke="#000" stroke-width="3.9"/>
<line x1="1739.2" y1="1395.2" x2="1739.2" y2="1376.1" stroke="#000" stroke-width="3.9"/>
<line x1="1835.95" y1="1395.2" x2="1835.95" y2="1376.1" stroke="#000" stroke-width="3.9"/>
<text transform="translate(1448.95 1448.9) scale(1 1.04)" text-anchor="middle">0</text>
<text transform="translate(1545.7 1448.9) scale(1 1.04)" text-anchor="middle">5</text>
<text transform="translate(1642.45 1448.9) scale(1 1.04)" text-anchor="middle">10</text>
<text transform="translate(1739.2 1448.9) scale(1 1.04)" text-anchor="middle">15</text>
<text transform="translate(1835.95 1448.9) scale(1 1.04)" text-anchor="middle">20</text>
<text transform="translate(1667.1 1516.4) scale(1 1.015)" text-anchor="middle">Radius (nm)</text>
<text transform="translate(1342.9 1254.85) rotate(-90) scale(1 1.015)">dV(r) (cm<tspan font-size="29.3" dy="-17">3</tspan><tspan dy="17"> g</tspan><tspan font-size="29.3" dy="-17">-1</tspan><tspan dy="17">)</tspan></text>
<text transform="translate(1318.55 817.25) scale(1.048 1)" font-size="48.5">(f)</text>
<text transform="translate(1377.5 814.5) scale(1 1.015)">PF Mesopores Distribution</text>
</svg>
</body>
</html>
